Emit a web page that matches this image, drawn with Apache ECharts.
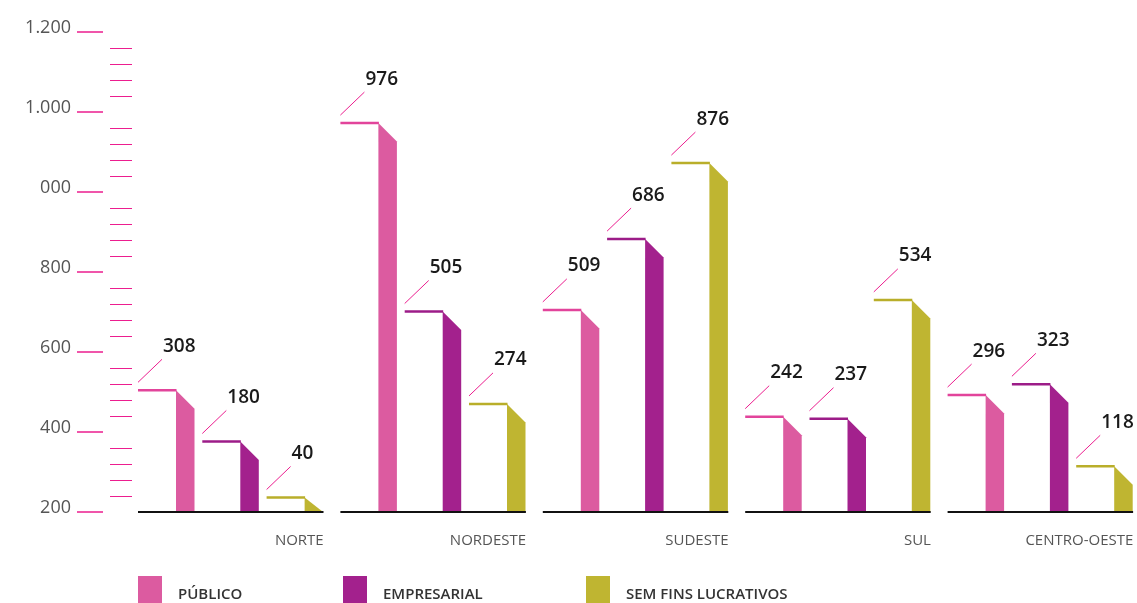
<!DOCTYPE html>
<html><head><meta charset="utf-8">
<script src="https://cdn.jsdelivr.net/npm/echarts@6/dist/echarts.min.js"></script>
<style>html,body{margin:0;padding:0;background:#fff}#c{width:1137px;height:603px}</style>
</head><body><div id="c"></div>
<script>
const categories = ['NORTE', 'NORDESTE', 'SUDESTE', 'SUL', 'CENTRO-OESTE'];
const seriesNames = ['PÚBLICO', 'EMPRESARIAL', 'SEM FINS LUCRATIVOS'];
const publico = [308, 976, 509, 242, 296];
const empresarial = [180, 505, 686, 237, 323];
const semFins = [40, 274, 876, 534, 118];
const yTickValues = [0, 200, 400, 600, 800, 1000, 1200];
const yTickLabels = ['200', '400', '600', '800', '000', '1.000', '1.200'];

const barColors = ['#DC5BA0', '#A3218D', '#BFB531'];
const lineColors = ['#E2449B', '#9C1C88', '#B9AE2A'];
const pink = '#EC1E8F';
const allValues = [publico, empresarial, semFins];
const GROUP_PAD = 13;

function makeRender(s) {
  return function (params, api) {
    const idx = api.value(0), v = api.value(1);
    const base = api.coord([idx, 0]);
    const top = api.coord([idx, v]);
    const bw = api.size([1, 0])[0];
    const gStart = base[0] - bw / 2 + GROUP_PAD;
    const x0 = gStart + s * 64.3;
    const x1 = x0 + 38;
    const x2 = x1 + 18.5;
    const yT = top[1] + 1.5, yB = base[1];
    const slant = Math.min(yT + (x2 - x1), yB);
    return {
      type: 'group', children: [
        { type: 'polygon', shape: { points: [[x1, yT], [x2, slant], [x2, yB], [x1, yB]] }, style: { fill: barColors[s] } },
        { type: 'line', shape: { x1: x0, y1: yT, x2: x1 + 0.5, y2: yT }, style: { stroke: lineColors[s], lineWidth: 2.5 } },
        { type: 'line', shape: { x1: x0, y1: yT - 8, x2: x0 + 24, y2: yT - 31 }, style: { stroke: pink, lineWidth: 1 } },
        { type: 'text', x: x0 + 25, y: yT - 44, style: { text: String(v), fill: '#1a1a1a', fontSize: 19, fontWeight: 600, fontFamily: 'Open Sans', align: 'left', verticalAlign: 'middle' } }
      ]
    };
  };
}

function baseRender(params, api) {
  const idx = api.value(0);
  const base = api.coord([idx, 0]);
  const bw = api.size([1, 0])[0];
  const gStart = base[0] - bw / 2 + GROUP_PAD;
  return { type: 'line', shape: { x1: gStart, y1: base[1], x2: gStart + 185.5, y2: base[1] }, style: { stroke: '#111', lineWidth: 2 } };
}

const series = seriesNames.map((n, s) => ({
  type: 'custom', name: n, renderItem: makeRender(s),
  itemStyle: { color: barColors[s] },
  encode: { x: 0, y: 1 },
  data: allValues[s].map((v, i) => [i, v])
}));
series.push({
  type: 'custom', name: 'base', renderItem: baseRender, z: 5,
  encode: { x: 0, y: 1 },
  data: categories.map((c, i) => [i, 0])
});

const chart = echarts.init(document.getElementById('c'));
chart.setOption({
  animation: false,
  backgroundColor: '#fff',
  grid: { left: 125, right: 0, top: 32, bottom: 91, containLabel: false },
  xAxis: {
    type: 'category', data: categories,
    axisLine: { show: false }, axisTick: { show: false }, splitLine: { show: false },
    axisLabel: {
      margin: 21, interval: 0,
      formatter: v => '{a|' + v + '}',
      rich: { a: { width: 195, align: 'right', fontSize: 15, color: '#555', fontFamily: 'Open Sans' } }
    }
  },
  yAxis: [{
    type: 'value', min: 0, max: 1200, interval: 200, offset: 22,
    axisLine: { show: false }, splitLine: { show: false },
    axisTick: { show: true, length: 26, lineStyle: { color: pink, width: 1.5 } },
    axisLabel: {
      margin: 32, color: '#555', fontSize: 18, fontFamily: 'Open Sans',
      verticalAlign: 'bottom', lineHeight: 9,
      formatter: v => { const k = yTickValues.indexOf(v); return k >= 0 ? yTickLabels[k] : ''; }
    }
  }, {
    type: 'value', min: 0, max: 1200, interval: 200, offset: 15, position: 'left',
    axisLine: { show: false }, splitLine: { show: false }, axisLabel: { show: false },
    axisTick: { show: false, inside: true },
    minorTick: { show: true, splitNumber: 5, length: 22, lineStyle: { color: pink, width: 1 } },
    minorSplitLine: { show: false }
  }],
  legend: seriesNames.map((n, i) => ({
    data: [n], left: [138, 343, 586][i], top: 576, padding: 0,
    itemWidth: 24, itemHeight: 38, icon: 'rect', selectedMode: false,
    textStyle: { color: '#333', fontSize: 15, fontWeight: 600, fontFamily: 'Open Sans', padding: [0, 0, 0, 11] }
  })),
  series: series
});
</script></body></html>
